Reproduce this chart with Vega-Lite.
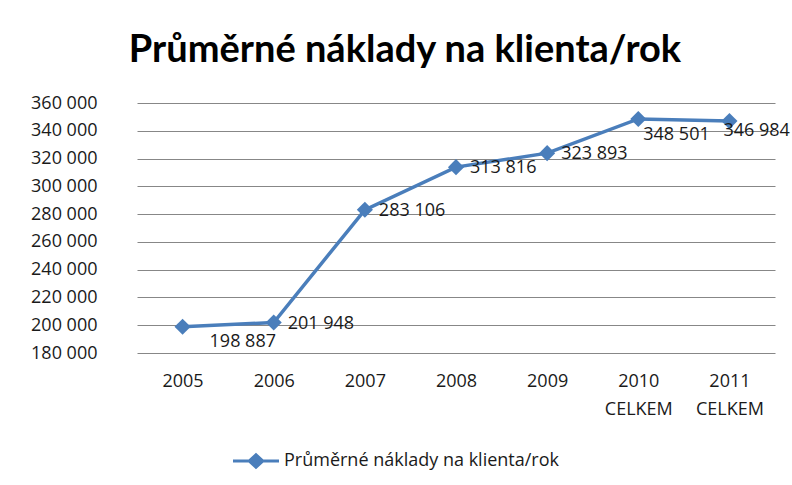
{
  "$schema": "https://vega.github.io/schema/vega-lite/v6.json",
  "width": 638,
  "height": 250,
  "autosize": {"type": "none"},
  "padding": {"left": 137, "top": 103, "right": 17, "bottom": 132},
  "background": "white",
  "config": {
    "locale": {"number": {"decimal": ",", "thousands": " ", "grouping": [3], "currency": ["", " Kč"]}},
    "view": {"stroke": null},
    "font": "Open Sans"
  },
  "title": {
    "text": "Průměrné náklady na klienta/rok",
    "font": "Lato",
    "fontSize": 38,
    "fontWeight": "bold",
    "color": "#000000",
    "anchor": "middle",
    "dx": -51,
    "offset": 24
  },
  "data": {
    "values": [
      {"rok": "2005", "naklady": 198887},
      {"rok": "2006", "naklady": 201948},
      {"rok": "2007", "naklady": 283106},
      {"rok": "2008", "naklady": 313816},
      {"rok": "2009", "naklady": 323893},
      {"rok": "2010 CELKEM", "naklady": 348501},
      {"rok": "2011 CELKEM", "naklady": 346984}
    ]
  },
  "encoding": {
    "x": {
      "field": "rok",
      "type": "ordinal",
      "sort": null,
      "scale": {"type": "point", "padding": 0.5},
      "axis": {
        "title": null,
        "labelAngle": 0,
        "domain": false,
        "ticks": false,
        "grid": false,
        "labelFontSize": 18,
        "labelColor": "#1a1a1a",
        "labelPadding": 19,
        "labelLineHeight": 28,
        "labelExpr": "split(datum.label, ' ')"
      }
    },
    "y": {
      "field": "naklady",
      "type": "quantitative",
      "scale": {"domain": [180000, 360000], "nice": false, "zero": false},
      "axis": {
        "title": null,
        "values": [180000, 200000, 220000, 240000, 260000, 280000, 300000, 320000, 340000, 360000],
        "format": ",d",
        "grid": true,
        "gridColor": "#878787",
        "gridWidth": 1,
        "domain": false,
        "ticks": false,
        "labelFontSize": 18,
        "labelColor": "#1a1a1a",
        "labelPadding": 40
      }
    }
  },
  "layer": [
    {
      "mark": {
        "type": "line",
        "strokeWidth": 3.5,
        "point": {"shape": "diamond", "size": 260, "filled": true}
      },
      "encoding": {
        "color": {
          "datum": "Průměrné náklady na klienta/rok",
          "scale": {"range": ["#4a7ebb"]},
          "legend": {
            "orient": "none",
            "legendX": 96,
            "legendY": 335,
            "title": null,
            "symbolType": "M-1,-0.07L-0.32,-0.07L0,-0.36L0.32,-0.07L1,-0.07L1,0.07L0.32,0.07L0,0.36L-0.32,0.07L-1,0.07Z",
            "symbolSize": 2116,
            "symbolFillColor": "#4a7ebb",
            "symbolStrokeWidth": 0,
            "labelFontSize": 18,
            "labelColor": "#1a1a1a",
            "labelOffset": 5,
            "labelLimit": 0
          }
        }
      }
    },
    {
      "transform": [{"filter": "datum.rok == '2005'"}],
      "mark": {"type": "text", "align": "left", "baseline": "middle", "dx": 27, "dy": 15, "fontSize": 18, "color": "#1a1a1a"},
      "encoding": {"text": {"field": "naklady", "type": "quantitative", "format": ",d"}}
    },
    {
      "transform": [{"filter": "datum.rok == '2010 CELKEM'"}],
      "mark": {"type": "text", "align": "left", "baseline": "middle", "dx": 5, "dy": 16, "fontSize": 18, "color": "#1a1a1a"},
      "encoding": {"text": {"field": "naklady", "type": "quantitative", "format": ",d"}}
    },
    {
      "transform": [{"filter": "datum.rok == '2011 CELKEM'"}],
      "mark": {"type": "text", "align": "left", "baseline": "middle", "dx": -6, "dy": 10, "fontSize": 18, "color": "#1a1a1a"},
      "encoding": {"text": {"field": "naklady", "type": "quantitative", "format": ",d"}}
    },
    {
      "transform": [{"filter": "datum.rok != '2005' && datum.rok != '2010 CELKEM' && datum.rok != '2011 CELKEM'"}],
      "mark": {"type": "text", "align": "left", "baseline": "middle", "dx": 14, "dy": 1, "fontSize": 18, "color": "#1a1a1a"},
      "encoding": {"text": {"field": "naklady", "type": "quantitative", "format": ",d"}}
    }
  ]
}
